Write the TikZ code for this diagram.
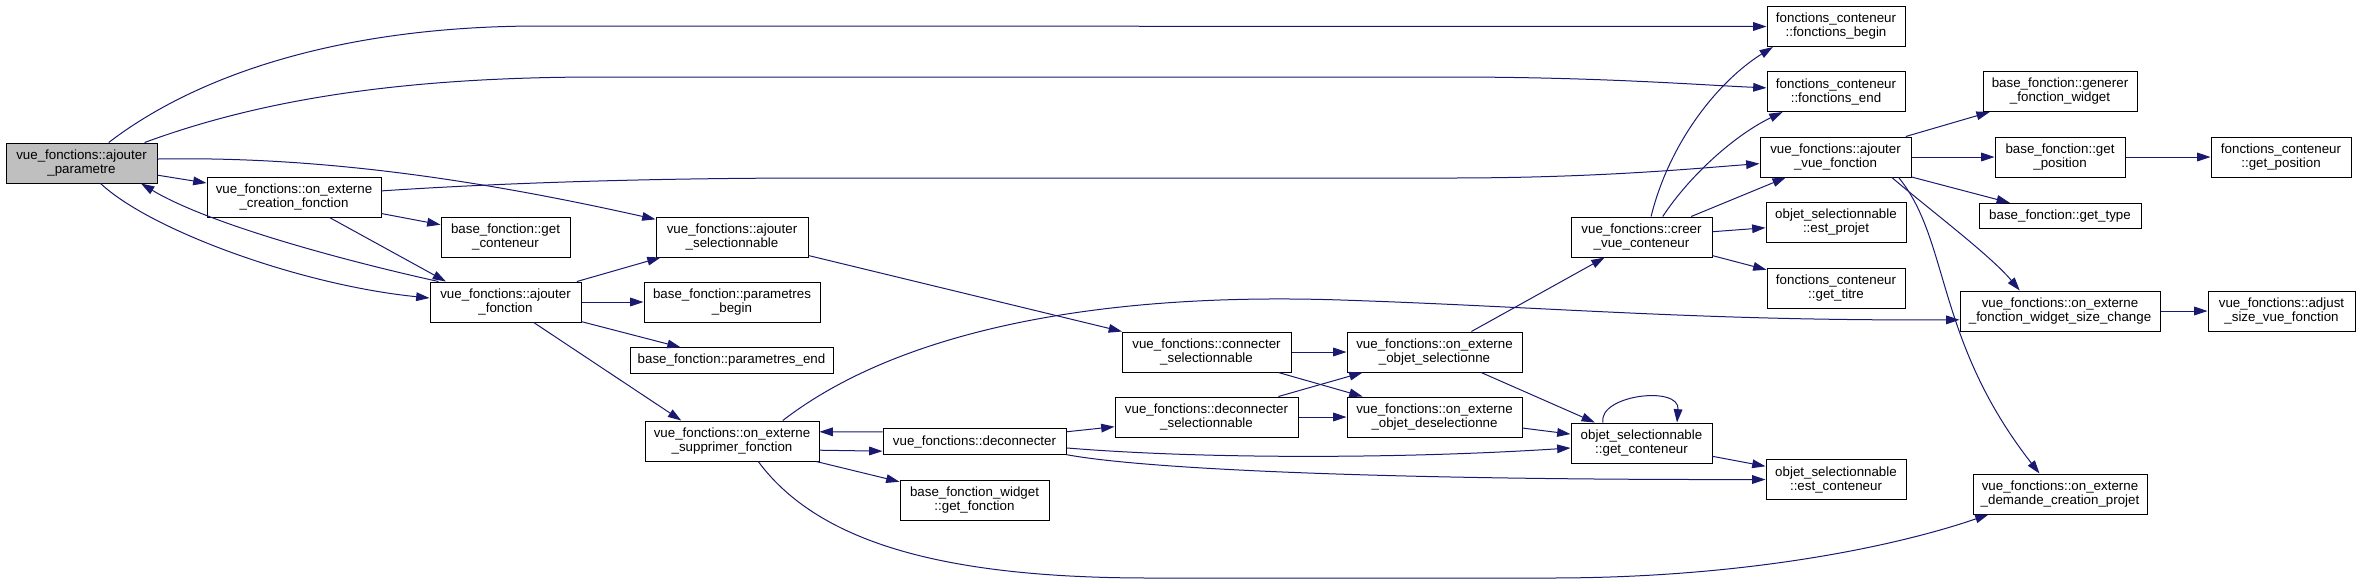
\documentclass[tikz,border=0pt]{standalone}
\usepackage{fontspec}
\setmainfont{Liberation Sans}
\usepackage{tikz}
\usetikzlibrary{arrows.meta}
\definecolor{dxEdge}{HTML}{191970}
\definecolor{dxGrey}{HTML}{BFBFBF}

\begin{document}
\begin{tikzpicture}[x=0.75pt,y=-0.75pt,font=\fontsize{10}{10.5}\selectfont,
  n/.style={draw=black,fill=white,line width=0.75pt,inner sep=0pt,align=center,
            minimum height=30pt},
  n1/.style={n,minimum height=19pt},
  a/.style={-{Triangle[length=10pt,width=6.5pt]},dxEdge,line width=0.75pt}]
\useasboundingbox (0,0) rectangle (2360,583);
\node[n,fill=dxGrey,minimum width=113.25pt] (apar) at (81.5,163) {vue\_fonctions::ajouter\\\_parametre};
\node[n,minimum width=130.5pt] (oecf) at (294,197) {vue\_fonctions::on\_externe\\\_creation\_fonction};
\node[n,minimum width=96.75pt] (bfgc) at (505.5,237) {base\_fonction::get\\\_conteneur};
\node[n,minimum width=113.25pt] (afct) at (505.5,302) {vue\_fonctions::ajouter\\\_fonction};
\node[n,minimum width=114pt] (asel) at (732,237) {vue\_fonctions::ajouter\\\_selectionnable};
\node[n,minimum width=132pt] (pbeg) at (732,302) {base\_fonction::parametres\\\_begin};
\node[n1,minimum width=152.25pt] (pend) at (731.5,360.5) {base\_fonction::parametres\_end};
\node[n,minimum width=130.5pt] (osup) at (732,441) {vue\_fonctions::on\_externe\\\_supprimer\_fonction};
\node[n1,minimum width=137.25pt] (deco) at (974.5,441.5) {vue\_fonctions::deconnecter};
\node[n,minimum width=111.75pt] (gfct) at (974.5,500) {base\_fonction\_widget\\::get\_fonction};
\node[n,minimum width=126.75pt] (csel) at (1206.5,352) {vue\_fonctions::connecter\\\_selectionnable};
\node[n,minimum width=137.25pt] (dsel) at (1206.5,417) {vue\_fonctions::deconnecter\\\_selectionnable};
\node[n,minimum width=131.25pt] (oos) at (1434.5,352) {vue\_fonctions::on\_externe\\\_objet\_selectionne};
\node[n,minimum width=131.25pt] (ood) at (1434.5,417) {vue\_fonctions::on\_externe\\\_objet\_deselectionne};
\node[n,minimum width=105.75pt] (creer) at (1641.5,237) {vue\_fonctions::creer\\\_vue\_conteneur};
\node[n,minimum width=105.75pt] (ogc) at (1641.5,443) {objet\_selectionnable\\::get\_conteneur};
\node[n,minimum width=103.5pt] (fbeg) at (1836,26.5) {fonctions\_conteneur\\::fonctions\_begin};
\node[n,minimum width=103.5pt] (fend) at (1836,91.5) {fonctions\_conteneur\\::fonctions\_end};
\node[n,minimum width=113.25pt] (avf) at (1835.5,157) {vue\_fonctions::ajouter\\\_vue\_fonction};
\node[n,minimum width=105pt] (eproj) at (1836,222.5) {objet\_selectionnable\\::est\_projet};
\node[n,minimum width=103.5pt] (gtit) at (1836,288) {fonctions\_conteneur\\::get\_titre};
\node[n,minimum width=105pt] (econt) at (1836,479.5) {objet\_selectionnable\\::est\_conteneur};
\node[n,minimum width=115.5pt] (gen) at (2060,91.5) {base\_fonction::generer\\\_fonction\_widget};
\node[n,minimum width=97.5pt] (bgp) at (2060,157) {base\_fonction::get\\\_position};
\node[n1,minimum width=121.5pt] (gtyp) at (2060,216) {base\_fonction::get\_type};
\node[n,minimum width=150pt] (wsc) at (2060,311) {vue\_fonctions::on\_externe\\\_fonction\_widget\_size\_change};
\node[n,minimum width=130.5pt] (dcp) at (2060,494) {vue\_fonctions::on\_externe\\\_demande\_creation\_projet};
\node[n,minimum width=105pt] (fcgp) at (2281,157) {fonctions\_conteneur\\::get\_position};
\node[n,minimum width=110.25pt] (adj) at (2281.5,311) {vue\_fonctions::adjust\\\_size\_vue\_fonction};
\draw[a] (apar.37) .. controls (190,80) and (330,26) .. (540,26) -- (fbeg.west);
\draw[a] (apar.18) .. controls (260,100) and (400,77) .. (600,77) -- (1450,77) .. controls (1600,77) and (1700,85) .. (fend.177);
\draw[a] (apar) -- (oecf);
\draw[a] (apar.3) .. controls (320,156) and (480,180) .. (asel.167);
\draw[a] (apar.-47) .. controls (150,230) and (300,285) .. (afct.177);
\draw[a] (afct.163) .. controls (350,262) and (210,225) .. (apar.-19);
\draw[a] (oecf.-30) -- (afct.161);
\draw[a] (oecf) -- (bfgc);
\draw[a] (oecf.4) .. controls (500,183) and (650,178) .. (820,178) -- (1450,178) .. controls (1600,178) and (1700,168) .. (avf.185);
\draw[a] (afct) -- (asel);
\draw[a] (afct) -- (pbeg);
\draw[a] (afct) -- (pend);
\draw[a] (afct.-36) -- (osup.158);
\draw[a] (asel) -- (csel);
\draw[a] (osup.-6) -- (deco.186);
\draw[a] (deco.174) -- (osup.6);
\draw[a] (osup) -- (gfct);
\draw[a] (osup.22) .. controls (900,330) and (1100,292) .. (1341,300) .. controls (1550,307) and (1700,321) .. (wsc.185);
\draw[a] (osup.-38) .. controls (820,545) and (950,578) .. (1150,578) -- (1550,578) .. controls (1750,578) and (1900,545) .. (dcp.196);
\draw[a] (deco) -- (dsel);
\draw[a] (deco.-4) .. controls (1200,459) and (1400,459) .. (ogc.184);
\draw[a] (deco.south east) .. controls (1150,470) and (1400,480) .. (econt.west);
\draw[a] (csel) -- (oos);
\draw[a] (csel) -- (ood);
\draw[a] (dsel) -- (oos);
\draw[a] (dsel) -- (ood);
\draw[a] (oos) -- (creer);
\draw[a] (oos) -- (ogc);
\draw[a] (ood) -- (ogc);
\draw[a] (ogc.152) .. controls (1598,395) and (1680,385) .. (ogc.30);
\draw[a] (ogc) -- (econt);
\draw[a] (creer.65) .. controls (1670,140) and (1720,80) .. (fbeg.198);
\draw[a] (creer.44) .. controls (1690,175) and (1735,135) .. (fend.201);
\draw[a] (creer) -- (avf);
\draw[a] (creer) -- (eproj);
\draw[a] (creer) -- (gtit);
\draw[a] (avf) -- (gen);
\draw[a] (avf) -- (bgp);
\draw[a] (avf) -- (gtyp);
\draw[a] (avf.-20) .. controls (1930,210) and (1990,255) .. (wsc.153);
\draw[a] (avf.-18) .. controls (1950,240) and (1935,340) .. (dcp.135);
\draw[a] (bgp) -- (fcgp);
\draw[a] (wsc) -- (adj);
\end{tikzpicture}
\end{document}
